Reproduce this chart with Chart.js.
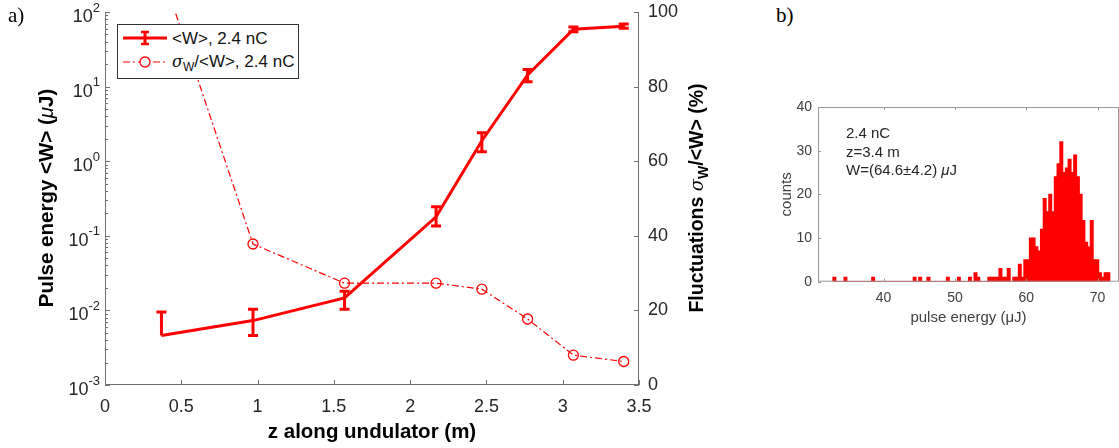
<!DOCTYPE html>
<html>
<head>
<meta charset="utf-8">
<script src="https://cdn.jsdelivr.net/npm/chart.js@4.4.0/dist/chart.umd.js"></script>
<style>
  body { margin: 0; width: 1119px; height: 448px; overflow: hidden; background: #fff; position: relative; }
  canvas { position: absolute; }
  .txt { position: absolute; white-space: nowrap; font-family: 'Liberation Sans', Arial, sans-serif; }
  .ttl { position: absolute; white-space: nowrap; font-family: 'Liberation Sans', Arial, sans-serif; font-weight: bold; color: #000; text-align: center; height: 24px; line-height: 24px; }
  .panel { position: absolute; font: 21px 'Liberation Serif', 'Times New Roman', serif; color: #000; }
</style>
</head>
<body>
<canvas id="chartA" width="720" height="448" style="left:0;top:0"></canvas>
<canvas id="chartB" width="380" height="250" style="left:760px;top:90px"></canvas>

<div class="panel" style="left:8px;top:3px">a)</div>
<div class="panel" style="left:776px;top:3px">b)</div>

<div id="legend" style="position:absolute;left:117px;top:24px;width:180px;height:53px;border:1px solid #333;background:#fff;">
  <svg width="180" height="53" style="position:absolute;left:0;top:0">
    <line x1="5" y1="13" x2="49" y2="13" stroke="#ff0000" stroke-width="3"/>
    <line x1="27" y1="7" x2="27" y2="19" stroke="#ff0000" stroke-width="3"/>
    <line x1="23" y1="7" x2="31" y2="7" stroke="#ff0000" stroke-width="2.5"/>
    <line x1="23" y1="19" x2="31" y2="19" stroke="#ff0000" stroke-width="2.5"/>
    <line x1="5" y1="37" x2="49" y2="37" stroke="#ff0000" stroke-width="1.2" stroke-dasharray="7 3 2 3"/>
    <circle cx="27" cy="37" r="5" fill="#fff" stroke="#ff0000" stroke-width="1.3"/>
  </svg>
  <div class="txt" style="left:54px;top:4px;font-size:17px;line-height:20px;color:#111">&lt;W&gt;, 2.4 nC</div>
  <div class="txt" style="left:54px;top:27px;font-size:17px;line-height:20px;color:#111"><i style="font-family:'DejaVu Serif',serif;font-size:16px">σ</i><sub style="font-size:12px;line-height:0;vertical-align:-4px">W</sub>/&lt;W&gt;, 2.4 nC</div>
</div>

<div class="ttl" style="left:-84px;top:186px;width:260px;font-size:20.5px;transform:rotate(-90deg)">Pulse energy &lt;W&gt; (<i style="font-weight:normal">μ</i>J)</div>
<div class="ttl" style="left:242px;top:419px;width:260px;font-size:20.5px">z along undulator (m)</div>
<div class="ttl" style="left:566px;top:186px;width:260px;font-size:19.5px;transform:rotate(-90deg)">Fluctuations <i style="font-weight:normal;font-family:'DejaVu Serif',serif;font-size:18px">σ</i><sub style="font-size:14px;line-height:0;vertical-align:-5px">W</sub>/&lt;W&gt; (%)</div>

<div class="txt" style="left:846px;top:124px;font-size:15px;line-height:18px;color:#262626">2.4 nC</div>
<div class="txt" style="left:846px;top:143px;font-size:15px;line-height:18px;color:#262626">z=3.4 m</div>
<div class="txt" style="left:846px;top:161px;font-size:15px;line-height:18px;color:#262626">W=(64.6±4.2) <i>μ</i>J</div>

<script>
// panel a: pulse energy and fluctuations along the undulator
const zPos       = [0.37, 0.97, 1.57, 2.17, 2.47, 2.77, 3.07, 3.40];
const energyMean = [0.0046, 0.0073, 0.0147, 0.18, 1.88, 14.3, 58.6, 64.6];
const energyLow  = [0, 0.0046, 0.0104, 0.135, 1.34, 11.6, 54.5, 60.4];
const energyHigh = [0.0095, 0.0104, 0.018, 0.245, 2.4, 17.0, 63.0, 68.8];
const fluctPct   = [111, 37.8, 27.3, 27.3, 25.7, 17.7, 8.0, 6.3];

const zTicks      = [0, 0.5, 1, 1.5, 2, 2.5, 3, 3.5];
const energyTicks = [1e-3, 1e-2, 1e-1, 1e0, 1e1, 1e2];
const energyExps  = ['-3', '-2', '-1', '0', '1', '2'];
const fluctTicks  = [0, 20, 40, 60, 80, 100];

// panel b: histogram of pulse energy at z = 3.4 m
const binStart = 32.9;
const binWidth = 0.388;
const binCounts = [
  1, 0, 0, 0, 1, 0, 0, 0, 0, 0,
  0, 0, 0, 0, 1, 0, 0, 0, 0, 0,
  0, 0, 0, 0, 0, 0, 0, 0, 0, 1,
  0, 1, 0, 0, 1, 0, 0, 0, 0, 0,
  0, 1, 0, 0, 0, 1, 0, 0, 0, 1,
  0, 2, 1, 0, 0, 0, 1, 1, 1, 1,
  3, 1, 1, 3, 0, 1, 1, 4, 1, 5,
  5, 10, 10, 8, 7, 12, 19, 16, 20, 16,
  24, 27, 32, 25, 26, 28, 25, 29, 24, 20,
  14, 9, 8, 14, 5, 5, 2, 1, 2, 2
];
const pulseTicks = [40, 50, 60, 70];
const countTicks = [0, 10, 20, 30, 40];

const RED = '#ff0000';
const FONT = "'Liberation Sans', Arial, sans-serif";

// MATLAB style frame: axis lines plus ticks pointing inwards
const frameTicks = {
    id: 'frameTicks',
    afterDraw(chart, args, opts) {
        const { ctx, chartArea: a } = chart;
        ctx.save();
        ctx.strokeStyle = opts.color;
        ctx.lineWidth = 1;
        ctx.setLineDash([]);
        ctx.beginPath();
        opts.sides.forEach(side => {
            if (side === 'left') { ctx.moveTo(a.left + 0.5, a.top); ctx.lineTo(a.left + 0.5, a.bottom); }
            if (side === 'right') { ctx.moveTo(a.right - 0.5, a.top); ctx.lineTo(a.right - 0.5, a.bottom); }
            if (side === 'bottom') { ctx.moveTo(a.left, a.bottom - 0.5); ctx.lineTo(a.right, a.bottom - 0.5); }
            if (side === 'top') { ctx.moveTo(a.left, a.top + 0.5); ctx.lineTo(a.right, a.top + 0.5); }
        });
        opts.marks.forEach(m => {
            const s = chart.scales[m.axis];
            m.values.forEach(v => {
                const p = Math.round(s.getPixelForValue(v)) + 0.5;
                if (m.side === 'left') { ctx.moveTo(a.left, p); ctx.lineTo(a.left + m.len, p); }
                if (m.side === 'right') { ctx.moveTo(a.right, p); ctx.lineTo(a.right - m.len, p); }
                if (m.side === 'bottom') { ctx.moveTo(p, a.bottom); ctx.lineTo(p, a.bottom - m.len); }
                if (m.side === 'top') { ctx.moveTo(p, a.top); ctx.lineTo(p, a.top + m.len); }
            });
        });
        ctx.stroke();
        ctx.restore();
    }
};

// "10" with a raised exponent for the log axis
const logLabels = {
    id: 'logLabels',
    afterDraw(chart) {
        const { ctx, chartArea: a } = chart;
        const ys = chart.scales.y;
        ctx.save();
        ctx.fillStyle = '#262626';
        ctx.textAlign = 'right';
        ctx.textBaseline = 'alphabetic';
        energyTicks.forEach((v, i) => {
            const p = ys.getPixelForValue(v);
            const right = a.left - 5;
            ctx.font = '13px ' + FONT;
            const w = ctx.measureText(energyExps[i]).width;
            ctx.fillText(energyExps[i], right, p - 0.5);
            ctx.font = '18px ' + FONT;
            ctx.fillText('10', right - w, p + 9.9);
        });
        ctx.restore();
    }
};

// vertical error bars with caps for the pulse energy series
const errorBars = {
    id: 'errorBars',
    afterDatasetsDraw(chart) {
        const { ctx } = chart;
        const xs = chart.scales.x, ys = chart.scales.y;
        ctx.save();
        ctx.strokeStyle = RED;
        ctx.lineWidth = 3;
        ctx.setLineDash([]);
        const cap = 5;
        zPos.forEach((z, i) => {
            const x = xs.getPixelForValue(z);
            const yHi = ys.getPixelForValue(energyHigh[i]);
            const yLo = energyLow[i] > 0 ? ys.getPixelForValue(energyLow[i]) : null;
            const yMid = ys.getPixelForValue(energyMean[i]);
            ctx.beginPath();
            ctx.moveTo(x, yHi);
            ctx.lineTo(x, yLo === null ? yMid : yLo);
            ctx.moveTo(x - cap, yHi); ctx.lineTo(x + cap, yHi);
            if (yLo !== null) { ctx.moveTo(x - cap, yLo); ctx.lineTo(x + cap, yLo); }
            ctx.stroke();
        });
        ctx.restore();
    }
};

function fixSize(prop, size) {
    return scale => {
        scale[prop] = size;
        scale.paddingLeft = 0; scale.paddingRight = 0;
        scale.paddingTop = 0; scale.paddingBottom = 0;
    };
}
function setTicks(values) {
    return scale => { scale.ticks = values.map(v => ({ value: v })); };
}

const minorEnergy = [];
energyTicks.slice(0, -1).forEach(d => {
    for (let k = 2; k <= 9; k++) minorEnergy.push(d * k);
});

new Chart(document.getElementById('chartA'), {
    type: 'line',
    data: {
        datasets: [
            {
                label: '<W>, 2.4 nC',
                data: zPos.map((z, i) => ({ x: z, y: energyMean[i] })),
                yAxisID: 'y',
                borderColor: RED,
                borderWidth: 3,
                pointRadius: 0,
                tension: 0,
                order: 0
            },
            {
                label: 'σW/<W>, 2.4 nC',
                data: zPos.map((z, i) => ({ x: z, y: fluctPct[i] })),
                yAxisID: 'y2',
                borderColor: RED,
                borderWidth: 1.2,
                borderDash: [7, 3, 2, 3],
                pointRadius: 5,
                pointBorderColor: RED,
                pointBackgroundColor: 'rgba(255,255,255,0)',
                pointBorderWidth: 1.3,
                tension: 0,
                order: 1
            }
        ]
    },
    options: {
        responsive: false,
        animation: false,
        layout: { padding: { top: 12, left: 0, right: 0, bottom: 0 } },
        plugins: {
            legend: { display: false },
            tooltip: { enabled: false },
            frameTicks: {
                color: '#707070',
                sides: ['left', 'right', 'bottom'],
                marks: [
                    { axis: 'x', side: 'bottom', len: 5, values: zTicks },
                    { axis: 'y', side: 'left', len: 5, values: energyTicks },
                    { axis: 'y', side: 'left', len: 3, values: minorEnergy },
                    { axis: 'y2', side: 'right', len: 5, values: fluctTicks }
                ]
            }
        },
        scales: {
            x: {
                type: 'linear', min: 0, max: 3.5,
                afterBuildTicks: setTicks(zTicks),
                afterFit: fixSize('height', 63),
                grid: { display: false, drawTicks: false },
                border: { display: false },
                ticks: { padding: 11, color: '#262626', font: { family: FONT, size: 18 }, maxRotation: 0, callback: v => String(v) }
            },
            y: {
                type: 'logarithmic', position: 'left', min: 1e-3, max: 1e2,
                afterBuildTicks: setTicks(energyTicks),
                afterFit: fixSize('width', 105),
                grid: { display: false, drawTicks: false },
                border: { display: false },
                ticks: { display: false }
            },
            y2: {
                type: 'linear', position: 'right', min: 0, max: 100,
                afterBuildTicks: setTicks(fluctTicks),
                afterFit: fixSize('width', 81),
                grid: { display: false, drawTicks: false },
                border: { display: false },
                ticks: { padding: 9, color: '#262626', font: { family: FONT, size: 18 } }
            }
        }
    },
    plugins: [errorBars, frameTicks, logLabels]
});

new Chart(document.getElementById('chartB'), {
    type: 'bar',
    data: {
        datasets: [{
            data: binCounts.map((c, k) => ({ x: binStart + binWidth * (k + 0.5), y: c })),
            backgroundColor: RED,
            borderWidth: 0,
            inflateAmount: 0.6,
            barPercentage: 1,
            categoryPercentage: 1
        }]
    },
    options: {
        responsive: false,
        animation: false,
        layout: { padding: { top: 17, right: 21, left: 0, bottom: 0 } },
        plugins: {
            legend: { display: false },
            tooltip: { enabled: false },
            frameTicks: {
                color: '#9a9a9a',
                sides: ['left', 'bottom', 'top', 'right'],
                marks: [
                    { axis: 'x', side: 'bottom', len: 3, values: pulseTicks },
                    { axis: 'x', side: 'top', len: 3, values: pulseTicks },
                    { axis: 'y', side: 'left', len: 3, values: countTicks }
                ]
            }
        },
        scales: {
            x: {
                type: 'linear', min: 30.8, max: 73, offset: false,
                afterBuildTicks: setTicks(pulseTicks),
                afterFit: fixSize('height', 58.3),
                grid: { display: false, drawTicks: false },
                border: { display: false },
                ticks: { padding: 8, color: '#404040', font: { family: FONT, size: 14 }, maxRotation: 0 },
                title: { display: true, text: 'pulse energy (μJ)', color: '#404040', padding: { top: 0, bottom: 13.5 }, font: { family: FONT, size: 15 } }
            },
            y: {
                min: 0, max: 40,
                afterBuildTicks: setTicks(countTicks),
                afterFit: fixSize('width', 58),
                grid: { display: false, drawTicks: false },
                border: { display: false },
                ticks: { padding: 6, color: '#404040', font: { family: FONT, size: 14 } },
                title: { display: true, text: 'counts', color: '#404040', padding: { top: 17.5, bottom: 0 }, font: { family: FONT, size: 15 } }
            }
        }
    },
    plugins: [frameTicks]
});
</script>
</body>
</html>
